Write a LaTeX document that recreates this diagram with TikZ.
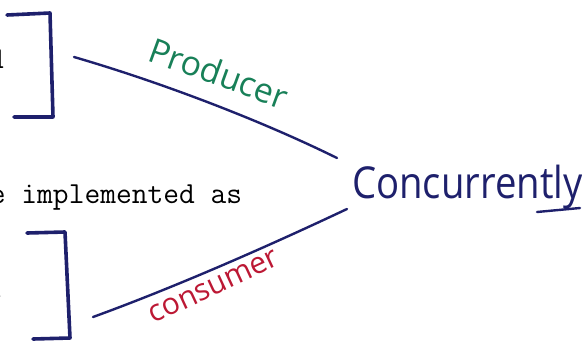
\documentclass[tikz,border=0pt]{standalone}
\usepackage{fontspec}
\newfontfamily\handfont{Open Sans}
\usepackage{tikz}
\usetikzlibrary{positioning}
\definecolor{ink}{RGB}{30,32,108}
\definecolor{prodgreen}{RGB}{24,128,88}
\definecolor{consred}{RGB}{188,24,52}

\begin{document}
\begin{tikzpicture}[x=1pt, y=-1pt,
  bracket/.style={ink, line width=3.6pt, line join=round, line cap=round},
  wire/.style={ink, line width=2.4pt, line cap=round},
  typed/.style={font=\fontsize{30.6}{33}\selectfont\ttfamily, inner sep=0pt}]
\clip (0,0) rectangle (582,341);
%% ---- typed text, cut at the left edge ----
\node[typed, anchor=base east] (typedtop) at (4,68) {d};
\node[typed, anchor=base west] (typedmid) at (-26,203) {be implemented as};
\node[typed, anchor=base east] (typedlow) at (1,297) {d};
%% ---- brackets ----
\draw[bracket] (7,15) -- (50,13) -- (53,117) -- (14,117);
\draw[bracket] (27,233) -- (65,232) -- (70,338) -- (33,339);
%% ---- handwritten target ----
\node[font=\handfont\fontsize{44}{48}\selectfont, text=ink, anchor=base west, inner sep=0pt]
  (conc) at (352,198) {\scalebox{0.87}[1]{Concurrently}};
\draw[wire] (537,212) -- (580,208);
%% ---- connectors ----
\coordinate (prodFrom) at (74,57);
\coordinate (prodTo)   at (337,158);
\coordinate (consFrom) at (93,317);
\coordinate (consTo)   at (347,209);
\draw[wire] (prodFrom) .. controls (160,82) and (260,120) .. (prodTo);
\draw[wire] (consFrom) .. controls (170,289) and (260,250) .. (consTo);
\node[font=\handfont\fontsize{34}{36}\selectfont, text=prodgreen, rotate=-20]
  (prod) at (219,73) {Producer};
\node[font=\handfont\fontsize{30}{32}\selectfont, text=consred, rotate=25]
  (cons) at (214,287) {consumer};
\end{tikzpicture}
\end{document}
